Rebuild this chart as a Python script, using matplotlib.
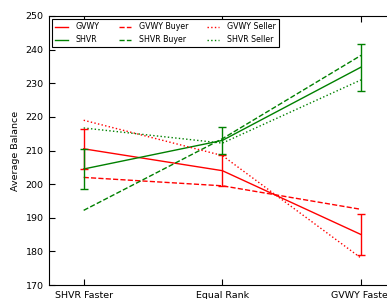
import matplotlib
matplotlib.use("Agg")
import matplotlib.pyplot as plt

categories = ["SHVR Faster", "Equal Rank", "GVWY Faster"]
gvwy = [210.5, 204.0, 185.0]
gvwy_err = [6.0, 4.7, 6.0]
shvr = [204.5, 213.0, 234.8]
shvr_err = [6.0, 4.0, 7.0]
gvwy_buyer = [202.0, 199.5, 192.5]
shvr_buyer = [192.2, 213.5, 238.3]
gvwy_seller = [219.0, 208.5, 178.0]
shvr_seller = [216.7, 212.2, 231.0]

plt.rcParams['font.family'] = ['DejaVu Sans']
fig = plt.figure(figsize=(3.87, 2.99), dpi=100)
ax = fig.add_axes([0.1266, 0.0468, 0.8960, 0.8997])
x = list(range(len(categories)))
red = '#ff0000'
green = '#008000'

ax.plot(x, gvwy, color=red, lw=1.0, label='GVWY')
ax.plot(x, shvr, color=green, lw=1.0, label='SHVR')
ax.plot(x, gvwy_buyer, color=red, ls='--', lw=1.0, label='GVWY Buyer')
ax.plot(x, shvr_buyer, color=green, ls='--', lw=1.0, label='SHVR Buyer')
ax.plot(x, gvwy_seller, color=red, ls=':', lw=1.0, label='GVWY Seller')
ax.plot(x, shvr_seller, color=green, ls=':', lw=1.0, label='SHVR Seller')
ax.errorbar(x, gvwy, yerr=gvwy_err, fmt='none', ecolor=red, elinewidth=1.0, capsize=3)
ax.errorbar(x, shvr, yerr=shvr_err, fmt='none', ecolor=green, elinewidth=1.0, capsize=3)

ax.set_xlim(-0.25, 2.25)
ax.set_ylim(170, 250)
ax.set_xticks(x)
ax.set_xticklabels(categories, fontsize=6.8)
ax.set_yticks(range(170, 251, 10))
ax.tick_params(axis='both', direction='in', top=True, right=True, labelsize=6.8, length=4, pad=4)
ax.set_ylabel('Average Balance', fontsize=6.8)

leg = ax.legend(loc='upper left', ncol=3, fontsize=5.7, fancybox=False,
                edgecolor='black', framealpha=1, handlelength=1.55, borderaxespad=0.4,
                columnspacing=2.4, handletextpad=1.0, labelspacing=0.5, borderpad=0.4)
leg.get_frame().set_linewidth(0.8)

fig.savefig('out.png', dpi=100)
